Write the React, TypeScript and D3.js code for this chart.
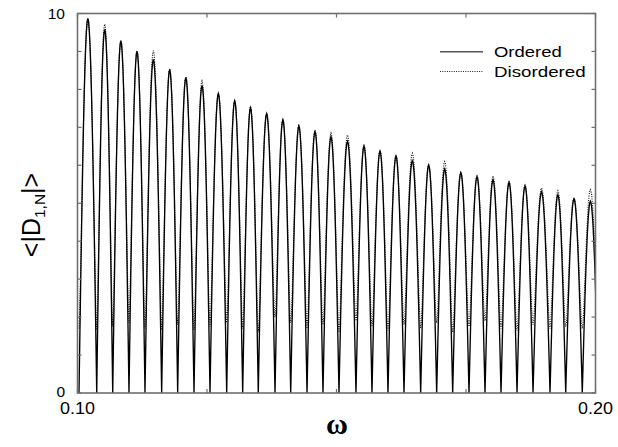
import React from "react";
import * as d3 from "d3";

// Zero crossings of the ordered curve (ω)
const zeros = [
  0.10029, 0.10371, 0.1068, 0.10994, 0.11303, 0.11625, 0.11934, 0.12249,
  0.12558, 0.1288, 0.13189, 0.1349, 0.13813, 0.14116, 0.14431, 0.14739,
  0.15048, 0.15376, 0.15685, 0.15994, 0.16303, 0.16625, 0.16934, 0.17243,
  0.17558, 0.17867, 0.18176, 0.18485, 0.18794, 0.19122, 0.19425, 0.19745,
  0.20058,
];
// Peak heights of each lobe
const orderedPeaks = [
  9.87, 9.58, 9.27, 9.0, 8.79, 8.52, 8.31, 8.1, 7.89, 7.7, 7.52, 7.36, 7.2,
  7.03, 6.89, 6.75, 6.63, 6.5, 6.37, 6.24, 6.12, 6.0, 5.9, 5.8, 5.7, 5.62,
  5.55, 5.45, 5.3, 5.22, 5.12, 5.05,
];
const disorderedPeaks = [
  9.85, 9.72, 9.3, 9.02, 9.02, 8.55, 8.33, 8.22, 7.9, 7.72, 7.55, 7.38, 7.22,
  7.05, 6.92, 6.85, 6.8, 6.52, 6.4, 6.27, 6.32, 6.02, 6.1, 5.82, 5.72, 5.72,
  5.57, 5.48, 5.4, 5.33, 5.14, 5.36,
];
// Minima of the disordered curve at each zero of the ordered curve
const disorderedMins = [
  1.7, 1.66, 1.75, 1.85, 1.7, 1.66, 1.8, 1.66, 1.75, 1.85, 1.7, 1.6, 2.0,
  1.85, 1.7, 1.8, 1.6, 1.9, 1.75, 1.65, 1.8, 1.7, 1.85, 1.6, 1.75, 1.9, 1.7,
  1.65, 1.8, 1.7, 1.75, 1.7, 1.7,
];
const xTicks = [0.1, 0.125, 0.15, 0.175, 0.2];
const xTickLabels = ["0.10", "", "", "", "0.20"];
const yTicks = [0, 1, 2, 3, 4, 5, 6, 7, 8, 9, 10];
const yTickLabels = ["0", "", "", "", "", "", "", "", "", "", "10"];

const W = 618;
const H = 447;
const L = 77.5;
const R = 595.5;
const T = 13.5;
const B = 393;

export default function App() {
  const x = d3.scaleLinear().domain([0.1, 0.2]).range([L, R]);
  const y = d3.scaleLinear().domain([0, 10]).range([B, T]);
  const SAMPLES = 24;

  const line = d3
    .line<[number, number]>()
    .x((d) => x(d[0]))
    .y((d) => y(d[1]));

  const ordPts: [number, number][] = [];
  const disPts: [number, number][] = [];
  for (let k = 0; k < orderedPeaks.length; k++) {
    const z0 = zeros[k];
    const z1 = zeros[k + 1];
    const h = orderedPeaks[k];
    const hd = disorderedPeaks[k];
    const m0 = disorderedMins[k];
    const m1 = disorderedMins[k + 1];
    for (let i = 0; i <= SAMPLES; i++) {
      if (k > 0 && i === 0) continue;
      const t = i / SAMPLES;
      const w = z0 + (z1 - z0) * t;
      const s = Math.sin(Math.PI * t);
      ordPts.push([w, h * s]);
      const m = m0 + (m1 - m0) * t;
      const a = Math.sqrt(Math.max(hd * hd - m * m, 0)) * s;
      disPts.push([w, Math.sqrt(a * a + m * m)]);
    }
  }

  const axisColor = "#6e6e6e";
  const font = "'Liberation Sans', Arial, Helvetica, sans-serif";

  return (
    <svg
      width={W}
      height={H}
      style={{ position: "absolute", left: 0, top: 0, background: "#fff" }}
    >
      <defs>
        <clipPath id="plot">
          <rect x={L} y={T} width={R - L} height={B - T} />
        </clipPath>
      </defs>
      <rect x={0} y={0} width={W} height={H} fill="#fff" />

      <g clipPath="url(#plot)">
        <path
          d={line(disPts) || ""}
          fill="none"
          stroke="#111"
          strokeWidth={1.1}
          strokeDasharray="1,1.3"
        />
        <path
          d={line(ordPts) || ""}
          fill="none"
          stroke="#000"
          strokeWidth={1.35}
        />
      </g>

      {/* frame */}
      <rect
        x={L}
        y={T}
        width={R - L}
        height={B - T}
        fill="none"
        stroke={axisColor}
        strokeWidth={1.6}
      />

      {/* ticks */}
      {xTicks.map((t, i) => (
        <g key={"xt" + i}>
          <line x1={x(t)} x2={x(t)} y1={B} y2={B - 4} stroke={axisColor} strokeWidth={1.2} />
          <line x1={x(t)} x2={x(t)} y1={T} y2={T + 4} stroke={axisColor} strokeWidth={1.2} />
          {xTickLabels[i] && (
            <text
              x={x(t)}
              y={413.5}
              textAnchor="middle"
              fontFamily={font}
              fontSize={16.3}
              textLength={35}
              lengthAdjust="spacingAndGlyphs"
              fill="#000"
            >
              {xTickLabels[i]}
            </text>
          )}
        </g>
      ))}
      {yTicks.map((t, i) => (
        <g key={"yt" + i}>
          <line x1={L} x2={L + 4} y1={y(t)} y2={y(t)} stroke={axisColor} strokeWidth={1.2} />
          <line x1={R} x2={R - 4} y1={y(t)} y2={y(t)} stroke={axisColor} strokeWidth={1.2} />
          {yTickLabels[i] && (
            <text
              x={65}
              y={i === 0 ? y(t) + 4 : y(t) + 5.5}
              textAnchor="end"
              fontFamily={font}
              fontSize={15.5}
              fill="#000"
            >
              {yTickLabels[i]}
            </text>
          )}
        </g>
      ))}

      {/* legend */}
      <line x1={440} x2={483} y1={51.7} y2={51.7} stroke="#555" strokeWidth={1.5} />
      <text
        x={494}
        y={56.7}
        fontFamily={font}
        fontSize={15.5}
        textLength={67.7}
        lengthAdjust="spacingAndGlyphs"
        fill="#000"
      >
        Ordered
      </text>
      <line
        x1={440}
        x2={483}
        y1={71.5}
        y2={71.5}
        stroke="#222"
        strokeWidth={1.1}
        strokeDasharray="1,1.3"
      />
      <text
        x={494}
        y={77}
        fontFamily={font}
        fontSize={15.5}
        textLength={91.7}
        lengthAdjust="spacingAndGlyphs"
        fill="#000"
      >
        Disordered
      </text>

      {/* axis titles */}
      <text
        x={337}
        y={434}
        textAnchor="middle"
        fontFamily="'Liberation Serif', 'Times New Roman', serif"
        fontWeight="bold"
        fontSize={30}
        fill="#000"
      >
        ω
      </text>
      <text
        transform="translate(40,215) rotate(-90)"
        textAnchor="middle"
        fontFamily={font}
        fontSize={25}
        fill="#000"
      >
        {"<|D"}
        <tspan fontSize={15.5} dy={5}>
          {"1,N"}
        </tspan>
        <tspan dy={-5}>{"|>"}</tspan>
      </text>
    </svg>
  );
}
